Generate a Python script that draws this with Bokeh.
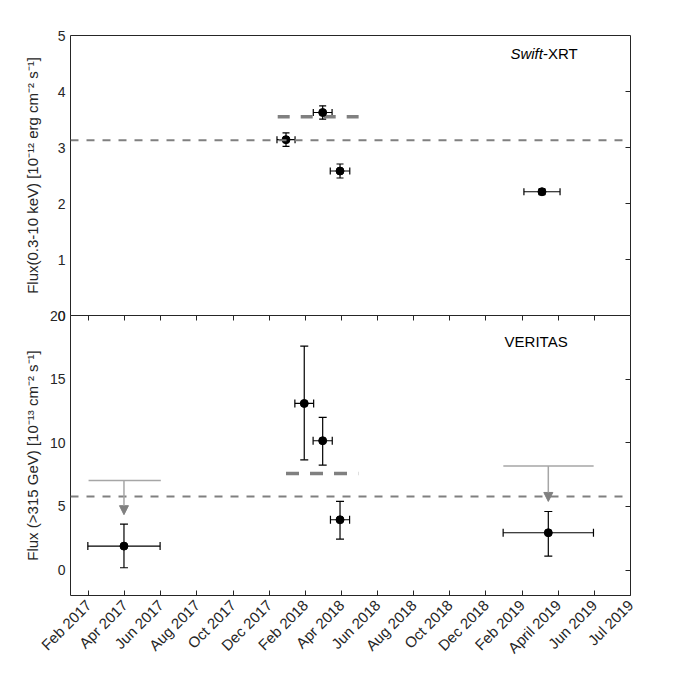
import math
from bokeh.plotting import figure
from bokeh.models import (Range1d, FixedTicker, LinearAxis, Whisker, TeeHead,
                          ColumnDataSource, Span, Arrow, NormalHead, Label)
from bokeh.layouts import column
from bokeh.embed import file_html
from bokeh.resources import INLINE

# ---------------- data ----------------
# x in months since 1 Jan 2017
month_ticks = [1, 3, 5, 7, 9, 11, 13, 15, 17, 19, 21, 23, 25, 27, 29, 31]
month_labels = ["Feb 2017", "Apr 2017", "Jun 2017", "Aug 2017", "Oct 2017",
                "Dec 2017", "Feb 2018", "Apr 2018", "Jun 2018", "Aug 2018",
                "Oct 2018", "Dec 2018", "Feb 2019", "April 2019", "Jun 2019",
                "Jul 2019"]

# Swift-XRT
xrt_x = [11.93, 13.96, 14.92, 26.10]
xrt_xerr = [0.50, 0.52, 0.54, 1.00]
xrt_y = [3.14, 3.625, 2.58, 2.21]
xrt_yerr = [0.12, 0.12, 0.125, 0.05]
xrt_mean = 3.13
xrt_sub_start, xrt_sub_end, xrt_sub_mean = 11.47, 15.95, 3.55

# VERITAS
ver_x = [2.96, 12.94, 13.96, 14.92, 26.45]
ver_xerr = [2.00, 0.52, 0.53, 0.53, 2.50]
ver_y = [1.88, 13.09, 10.16, 3.95, 2.93]
ver_ylo = [0.18, 8.66, 8.25, 2.43, 1.10]
ver_yhi = [3.61, 17.60, 12.00, 5.39, 4.60]
ver_mean = 5.78
ver_sub_start, ver_sub_end, ver_sub_mean = 11.93, 15.93, 7.59

# VERITAS upper limits
ul_x = [2.96, 26.45]
ul_xlo = [1.00, 23.96]
ul_xhi = [5.00, 28.96]
ul_val = [7.04, 8.17]
ul_tip = [4.35, 5.39]

# ---------------- style ----------------
FONT = "Liberation Sans"
TXT = "#262626"
GRAY = "#808080"
LGRAY = "#a6a6a6"

xr = Range1d(0, 31)


def style_left(ax, ticks, label, standoff):
    ax.ticker = FixedTicker(ticks=ticks)
    ax.major_tick_out = 0
    ax.major_tick_in = 0
    ax.minor_tick_out = 0
    ax.minor_tick_in = 0
    ax.axis_line_color = None
    ax.major_label_text_font = FONT
    ax.major_label_text_font_size = "14px"
    ax.major_label_text_color = TXT
    ax.major_label_standoff = 5
    ax.axis_label = label
    ax.axis_label_text_font = FONT
    ax.axis_label_text_font_size = "15px"
    ax.axis_label_text_font_style = "normal"
    ax.axis_label_text_color = TXT
    ax.axis_label_standoff = standoff


def tick_only_axis(ticks):
    return LinearAxis(ticker=FixedTicker(ticks=ticks), major_tick_in=5,
                      major_tick_out=0, minor_tick_in=0, minor_tick_out=0,
                      axis_line_color=None, major_tick_line_color=TXT,
                      major_label_text_color=None,
                      major_label_text_font_size="1px", major_label_standoff=0)


def errorbars(p, x, y, xlo, xhi, ylo, yhi, cap):
    src = ColumnDataSource(dict(x=x, y=y, xlo=xlo, xhi=xhi, ylo=ylo, yhi=yhi))
    p.add_layout(Whisker(source=src, base="x", lower="ylo", upper="yhi",
                         dimension="height", line_color="black", line_width=1.2,
                         lower_head=TeeHead(size=cap, line_color="black", line_width=1.2),
                         upper_head=TeeHead(size=cap, line_color="black", line_width=1.2)))
    p.add_layout(Whisker(source=src, base="y", lower="xlo", upper="xhi",
                         dimension="width", line_color="black", line_width=1.2,
                         lower_head=TeeHead(size=cap, line_color="black", line_width=1.2),
                         upper_head=TeeHead(size=cap, line_color="black", line_width=1.2)))
    p.scatter("x", "y", source=src, marker="circle", size=8,
              fill_color="black", line_color="black")


# ---------------- top panel: Swift-XRT ----------------
p1 = figure(frame_width=560, frame_height=280, x_range=xr, y_range=Range1d(0, 5),
            x_axis_location=None, output_backend="svg", toolbar_location=None,
            min_border_left=70, min_border_right=30, min_border_top=35,
            min_border_bottom=10)
p1.grid.visible = False
p1.outline_line_color = TXT
p1.outline_line_width = 1
style_left(p1.yaxis[0], [0, 1, 2, 3, 4, 5],
           "Flux(0.3-10 keV) [10\u207b\u00b9\u00b2 erg cm\u207b\u00b2 s\u207b\u00b9]", 14)
p1.add_layout(tick_only_axis([1, 2, 3, 4]), "right")

p1.add_layout(Span(location=xrt_mean, dimension="width", line_color=GRAY,
                   line_dash="8 8", line_width=2))
p1.line([xrt_sub_start, xrt_sub_end], [xrt_sub_mean, xrt_sub_mean],
        line_color=GRAY, line_dash="12 11", line_width=3.5)

errorbars(p1, xrt_x, xrt_y,
          [a - b for a, b in zip(xrt_x, xrt_xerr)], [a + b for a, b in zip(xrt_x, xrt_xerr)],
          [a - b for a, b in zip(xrt_y, xrt_yerr)], [a + b for a, b in zip(xrt_y, xrt_yerr)], 7)

p1.add_layout(Label(x=26.15, y=4.68, text="Swift", text_align="right",
                    text_baseline="middle", text_font=FONT, text_font_size="15px",
                    text_font_style="italic", text_color="black"))
p1.add_layout(Label(x=26.15, y=4.68, text="-XRT", text_align="left",
                    text_baseline="middle", text_font=FONT, text_font_size="15px",
                    text_color="black"))

# ---------------- bottom panel: VERITAS ----------------
p2 = figure(frame_width=560, frame_height=280, x_range=xr, y_range=Range1d(-2, 20),
            output_backend="svg", toolbar_location=None,
            min_border_left=70, min_border_right=30, min_border_top=10,
            min_border_bottom=85, margin=(-20, 0, 0, 0))
p2.grid.visible = False
p2.border_fill_alpha = 0
p2.background_fill_alpha = 0
p2.outline_line_color = TXT
p2.outline_line_width = 1
style_left(p2.yaxis[0], [0, 5, 10, 15, 20],
           "Flux (>315 GeV) [10\u207b\u00b9\u00b3 cm\u207b\u00b2 s\u207b\u00b9]", 6)
p2.add_layout(tick_only_axis([0, 5, 10, 15]), "right")

xa = p2.below[0]
xa.ticker = FixedTicker(ticks=month_ticks)
xa.major_label_overrides = {t: l for t, l in zip(month_ticks, month_labels)}
xa.major_label_orientation = math.pi / 4
xa.major_tick_in = 5
xa.major_tick_out = 0
xa.minor_tick_in = 0
xa.minor_tick_out = 0
xa.axis_line_color = None
xa.major_tick_line_color = TXT
xa.major_label_text_font = FONT
xa.major_label_text_font_size = "15px"
xa.major_label_text_color = TXT
xa.major_label_standoff = 7

p2.add_layout(tick_only_axis(month_ticks[:-1]), "above")

p2.add_layout(Span(location=ver_mean, dimension="width", line_color=GRAY,
                   line_dash="8 8", line_width=2))
p2.line([ver_sub_start, ver_sub_end], [ver_sub_mean, ver_sub_mean],
        line_color=GRAY, line_dash="13 11", line_width=3.5)

ul_src = ColumnDataSource(dict(x=ul_x, xlo=ul_xlo, xhi=ul_xhi, val=ul_val, tip=ul_tip))
p2.segment("xlo", "val", "xhi", "val", source=ul_src, line_color=LGRAY, line_width=1.5)
p2.add_layout(Arrow(source=ul_src, x_start="x", y_start="val", x_end="x", y_end="tip",
                    line_color=LGRAY, line_width=1.5,
                    end=NormalHead(size=9, fill_color=GRAY, line_color=GRAY)))

errorbars(p2, ver_x, ver_y,
          [a - b for a, b in zip(ver_x, ver_xerr)], [a + b for a, b in zip(ver_x, ver_xerr)],
          ver_ylo, ver_yhi, 8)

p2.add_layout(Label(x=24.03, y=17.98, text="VERITAS", text_align="left",
                    text_baseline="middle", text_font=FONT, text_font_size="15px",
                    text_color="black"))

layout = column(p1, p2, spacing=0)
open("out.html", "w").write(file_html(layout, INLINE))
